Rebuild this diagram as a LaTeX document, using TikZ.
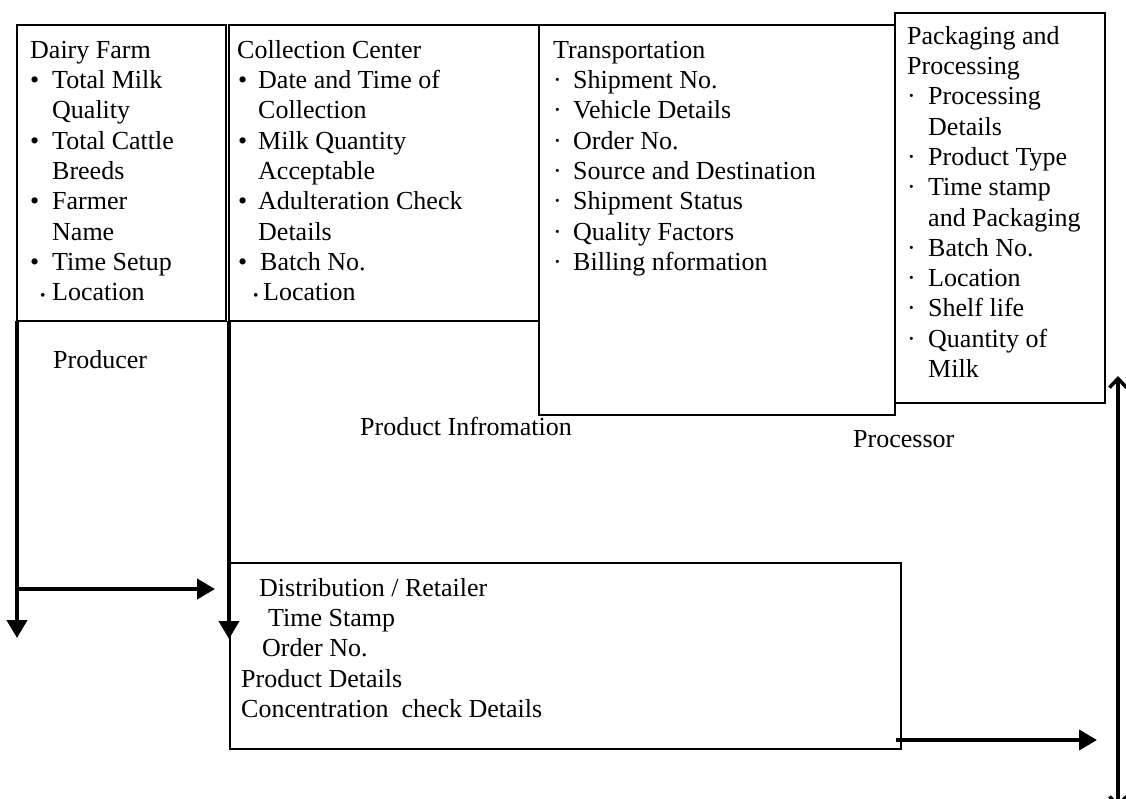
\documentclass[tikz,border=0pt]{standalone}
\usepackage{fontspec}
\setmainfont{Liberation Serif}
\usetikzlibrary{arrows.meta,calc}

\newcommand{\bul}[1]{\makebox[#1][l]{\textbullet}}
\newcommand{\dotb}[1]{\makebox[#1][l]{\textperiodcentered}}
\newcommand{\smb}[1]{\makebox[#1][l]{\scalebox{0.6}{\textbullet}}}
\newcommand{\tp}{\rule{0pt}{20pt}}

\begin{document}
\begin{tikzpicture}[
  x=1pt, y=-1pt,
  box/.style={draw, line width=1.2pt, inner sep=0pt, outer sep=0pt, anchor=north west},
  txt/.style={align=left, inner sep=0pt, anchor=north west, font=\fontsize{26}{30.3}\selectfont},
  lbl/.style={inner sep=0pt, anchor=base west, font=\fontsize{26}{30.3}\selectfont},
  flow/.style={line width=4pt, -{Triangle[width=20pt,length=18pt]}},
  side/.style={line width=3.5pt, {Straight Barb[width=17pt,length=9pt]}-{Straight Barb[width=17pt,length=9pt]}}
]
\clip (0,0) rectangle (1126,798);
\fill[white] (0,0) rectangle (1126,798);

% the five boxes
\node[box, minimum width=209pt, minimum height=296pt] (farm) at (17,25) {};
\node[box, minimum width=310pt, minimum height=296pt] (coll) at (229,25) {};
\node[box, minimum width=356pt, minimum height=390pt] (trans) at (coll.north east) {};
\node[box, minimum width=210pt, minimum height=390pt] (pack) at (895,13) {};
\node[box, minimum width=671pt, minimum height=186pt] (dist) at (230,563) {};

% box contents
\node[txt] (farmtxt) at ($(farm.north west)+(13,13)$) {\tp Dairy Farm\\
  \bul{22pt}Total Milk\\ \hspace*{22pt}Quality\\
  \bul{22pt}Total Cattle\\ \hspace*{22pt}Breeds\\
  \bul{22pt}Farmer\\ \hspace*{22pt}Name\\
  \bul{22pt}Time Setup\\ \hspace*{10pt}\smb{12pt}Location};
\node[txt] (colltxt) at ($(coll.north west)+(8,13)$) {\tp Collection Center\\
  \hspace*{1pt}\bul{20pt}Date and Time of\\ \hspace*{21pt}Collection\\
  \hspace*{1pt}\bul{20pt}Milk Quantity\\ \hspace*{21pt}Acceptable\\
  \hspace*{1pt}\bul{20pt}Adulteration Check\\ \hspace*{21pt}Details\\
  \hspace*{1pt}\bul{22pt}Batch No.\\ \hspace*{16pt}\smb{10pt}Location};
\node[txt] (transtxt) at ($(trans.north west)+(14,13)$) {\tp Transportation\\
  \dotb{20pt}Shipment No.\\
  \dotb{20pt}Vehicle Details\\
  \dotb{20pt}Order No.\\
  \dotb{20pt}Source and Destination\\
  \dotb{20pt}Shipment Status\\
  \dotb{20pt}Quality Factors\\
  \dotb{20pt}Billing nformation};
\node[txt] (packtxt) at ($(pack.north west)+(12,11)$) {\tp Packaging and\\ Processing\\
  \dotb{21pt}Processing\\ \hspace*{21pt}Details\\
  \dotb{21pt}Product Type\\
  \dotb{21pt}Time stamp\\ \hspace*{21pt}and Packaging\\
  \dotb{21pt}Batch No.\\
  \dotb{21pt}Location\\
  \dotb{21pt}Shelf life\\
  \dotb{21pt}Quantity of\\ \hspace*{21pt}Milk};
\node[txt] (disttxt) at ($(dist.north west)+(11,13)$) {\tp\hspace*{18pt}Distribution / Retailer\\
  \hspace*{27pt}Time Stamp\\
  \hspace*{21pt}Order No.\\
  Product Details\\
  Concentration\ \ check Details};

% role labels
\node[lbl] (producer) at (53,368) {Producer};
\node[lbl] (prodinfo) at (360,435) {Product Infromation};
\node[lbl] (processor) at (853,447) {Processor};

% arrows
\coordinate (farmend) at (17,638);
\coordinate (farmhit) at (215,589);
\coordinate (collend) at (229,639);
\coordinate (retout) at (1097,740);
\coordinate (sidetop) at (1118,376);
\coordinate (sidebot) at (1118,808);
\draw[flow] (farm.south west) -- (farmend);
\draw[flow] (farm.south west |- farmhit) -- (farmhit);
\draw[flow] (coll.south west) -- (collend);
\draw[flow] ([xshift=-5pt]retout -| dist.east) -- (retout);
\draw[side] (sidebot) -- (sidetop);
\end{tikzpicture}
\end{document}
